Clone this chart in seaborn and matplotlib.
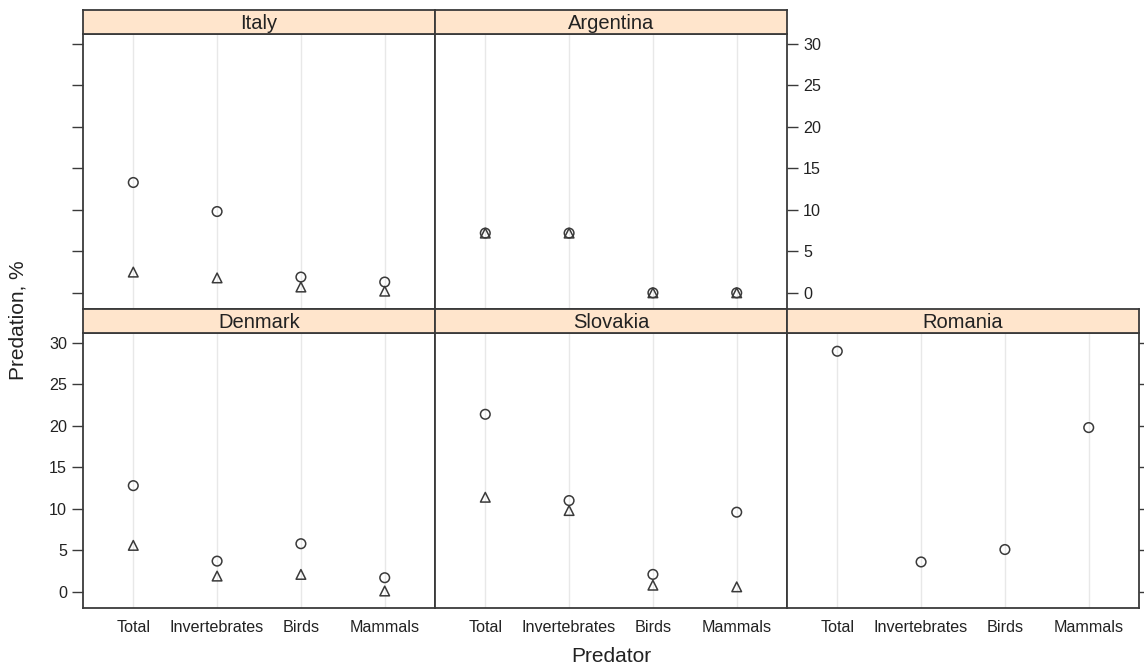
import numpy as np
import pandas as pd
import matplotlib
matplotlib.use("Agg")
import matplotlib.pyplot as plt
import seaborn as sns

predators = ["Total", "Invertebrates", "Birds", "Mammals"]
countries = ["Italy", "Argentina", "Denmark", "Slovakia", "Romania"]

# circle series
italy_circle = [13.3, 9.8, 1.9, 1.3]
argentina_circle = [7.2, 7.2, 0.0, 0.0]
denmark_circle = [12.8, 3.7, 5.8, 1.7]
slovakia_circle = [21.4, 11.0, 2.1, 9.6]
romania_circle = [29.0, 3.6, 5.1, 19.8]

# triangle series
italy_triangle = [2.5, 1.8, 0.7, 0.2]
argentina_triangle = [7.2, 7.2, 0.0, 0.0]
denmark_triangle = [5.6, 1.9, 2.1, 0.1]
slovakia_triangle = [11.4, 9.8, 0.8, 0.6]
romania_triangle = [np.nan, np.nan, np.nan, np.nan]

yticks = [0, 5, 10, 15, 20, 25, 30]

circles = dict(zip(countries, [italy_circle, argentina_circle, denmark_circle,
                               slovakia_circle, romania_circle]))
triangles = dict(zip(countries, [italy_triangle, argentina_triangle, denmark_triangle,
                                 slovakia_triangle, romania_triangle]))

rows = []
for c in countries:
    for p, v in zip(predators, circles[c]):
        rows.append(dict(Country=c, Predator=p, Series="circle", Value=v))
    for p, v in zip(predators, triangles[c]):
        rows.append(dict(Country=c, Predator=p, Series="triangle", Value=v))
df = pd.DataFrame(rows)

sns.set_style("white")
plt.rcParams["font.family"] = ["Liberation Sans", "DejaVu Sans"]

W, H = 1144, 669
fig = plt.figure(figsize=(W / 100, H / 100), dpi=100)

edge = "#3a3a3a"
strip_col = "#ffe5cc"
panel_w = 352
panel_h = 275
strip_h = 24
x0 = 83

layout = {
    "Italy": (0, 34),
    "Argentina": (1, 34),
    "Denmark": (0, 333),
    "Slovakia": (1, 333),
    "Romania": (2, 333),
}

for c in countries:
    col, top = layout[c]
    left = x0 + col * panel_w
    ax = fig.add_axes([left / W, 1 - (top + panel_h) / H, panel_w / W, panel_h / H])
    sub = df[df.Country == c].dropna()
    for x in range(len(predators)):
        ax.axvline(x, color="#e8e8e8", lw=1.0, zorder=0)
    sns.scatterplot(data=sub, x="Predator", y="Value", style="Series",
                    markers={"circle": "o", "triangle": "^"},
                    style_order=["circle", "triangle"],
                    s=48, facecolor="none", edgecolor=edge, linewidth=1.1,
                    ax=ax, legend=False, zorder=3)
    ax.set_xlim(-0.6, 3.6)
    ax.set_ylim(-1.95, 31.2)
    ax.set_xticks(range(len(predators)))
    ax.set_yticks(yticks)
    ax.set_xlabel("")
    ax.set_ylabel("")
    for sp in ax.spines.values():
        sp.set_color(edge)
        sp.set_linewidth(1.3)
    ax.tick_params(axis="both", colors=edge, labelcolor="#222222", labelsize=11.6,
                   length=8, width=1.0, direction="out")
    bottom_row = top == 333
    if bottom_row:
        ax.set_xticklabels(predators)
        ax.tick_params(axis="x", length=0, pad=9)
    else:
        ax.tick_params(axis="x", bottom=False, labelbottom=False)
    if c == "Italy":
        ax.tick_params(axis="y", left=True, labelleft=False, right=False, labelright=False)
    elif c == "Denmark":
        ax.tick_params(axis="y", left=True, labelleft=True, right=False, labelright=False)
    elif c == "Argentina":
        ax.tick_params(axis="y", left=False, labelleft=False, right=True, labelright=True)
    elif c == "Romania":
        ax.tick_params(axis="y", left=False, labelleft=False, right=True, labelright=False)
    else:
        ax.tick_params(axis="y", left=False, labelleft=False, right=False, labelright=False)

    sax = fig.add_axes([left / W, 1 - top / H, panel_w / W, strip_h / H])
    sax.set_facecolor(strip_col)
    sax.set_xticks([])
    sax.set_yticks([])
    for sp in sax.spines.values():
        sp.set_color(edge)
        sp.set_linewidth(1.3)
    sax.text(0.5, 0.45, c, ha="center", va="center", fontsize=14.5,
             color="#222222", transform=sax.transAxes)

fig.text(18 / W, 1 - 320 / H, "Predation, %", rotation=90, ha="center", va="center",
         fontsize=15, color="#222222")
fig.text(611 / W, 1 - 656 / H, "Predator", ha="center", va="center",
         fontsize=15, color="#222222")

fig.savefig("out.png", dpi=100, facecolor="white")
